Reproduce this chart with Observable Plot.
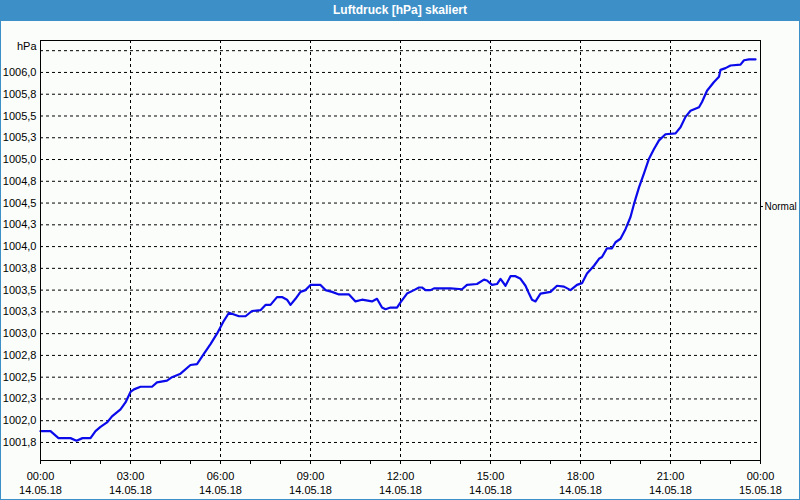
<!DOCTYPE html>
<html>
<head>
<meta charset="utf-8">
<script src="https://cdn.jsdelivr.net/npm/d3@7"></script>
<script src="https://cdn.jsdelivr.net/npm/@observablehq/plot@0.6"></script>
<style>
html, body { margin: 0; padding: 0; background: #fbfdfb; }
#wrap { position: relative; width: 800px; height: 500px; overflow: hidden; background: #fbfdfb; }
#title { height: 21px; background: #3d8fc7; color: #fff; font-family: "Liberation Sans", Arial, sans-serif; font-weight: bold; font-size: 12px; line-height: 20px; text-align: center; }
#border { position: absolute; left: 0; top: 0; width: 798px; height: 499px; border: 1px solid #3d8fc7; border-top: none; pointer-events: none; }
svg { display: block; }
</style>
</head>
<body>
<div id="wrap">
  <div id="title"></div>
  <div id="chart"></div>
  <div id="border"></div>
</div>
<script>
const titleText = "Luftdruck [hPa] skaliert";
const yUnit = "hPa";
const normalLabel = "Normal";
const normalValue = 1004.46;

const times = ["00:00","00:20","00:36","01:00","01:12","01:24","01:40","01:50","02:00","02:13",
  "02:23","02:40","02:50","03:00","03:07","03:20","03:43","03:53","04:13","04:23",
  "04:40","05:00","05:13","05:27","05:40","05:53","06:07","06:17","06:27","06:37",
  "06:50","07:03","07:20","07:30","07:40","07:53","08:03","08:13","08:20","08:30",
  "08:40","08:50","09:00","09:20","09:30","09:43","09:57","10:17","10:30","10:43",
  "11:03","11:13","11:23","11:30","11:40","11:53","12:00","12:13","12:27","12:37",
  "12:43","12:50","13:00","13:07","13:40","14:03","14:13","14:33","14:47","14:53",
  "15:03","15:13","15:20","15:30","15:40","15:50","16:00","16:10","16:17","16:23",
  "16:30","16:40","17:00","17:13","17:27","17:40","17:53","18:03","18:13","18:27",
  "18:37","18:43","18:53","19:03","19:10","19:20","19:30","19:40","19:47","19:57",
  "20:07","20:17","20:27","20:37","20:50","21:10","21:20","21:30","21:40","21:57",
  "22:03","22:13","22:27","22:37","22:40","22:50","23:00","23:20","23:27","23:37","23:50"];

const pressure = [1001.88,1001.88,1001.80,1001.80,1001.77,1001.80,1001.80,1001.88,1001.93,1001.98,
  1002.05,1002.13,1002.21,1002.33,1002.36,1002.39,1002.39,1002.44,1002.46,1002.50,
  1002.54,1002.64,1002.65,1002.77,1002.88,1003.00,1003.15,1003.24,1003.22,1003.20,
  1003.20,1003.26,1003.27,1003.33,1003.33,1003.42,1003.42,1003.39,1003.33,1003.40,
  1003.48,1003.50,1003.56,1003.56,1003.50,1003.48,1003.45,1003.45,1003.37,1003.39,
  1003.37,1003.40,1003.30,1003.28,1003.30,1003.30,1003.36,1003.46,1003.50,1003.53,
  1003.53,1003.50,1003.50,1003.52,1003.52,1003.51,1003.56,1003.57,1003.62,1003.61,
  1003.56,1003.57,1003.63,1003.55,1003.66,1003.66,1003.63,1003.55,1003.46,1003.39,
  1003.37,1003.46,1003.48,1003.55,1003.54,1003.50,1003.56,1003.58,1003.69,1003.78,
  1003.86,1003.88,1003.98,1003.98,1004.05,1004.09,1004.20,1004.34,1004.49,1004.68,
  1004.84,1005.01,1005.12,1005.22,1005.29,1005.30,1005.37,1005.49,1005.56,1005.60,
  1005.66,1005.79,1005.89,1005.95,1006.03,1006.05,1006.08,1006.09,1006.14,1006.15,1006.15];

const yTicks = [1001.75,1002.0,1002.25,1002.5,1002.75,1003.0,1003.25,1003.5,1003.75,
  1004.0,1004.25,1004.5,1004.75,1005.0,1005.25,1005.5,1005.75,1006.0];
const yTickLabels = ["1001,8","1002,0","1002,3","1002,5","1002,8","1003,0","1003,3","1003,5","1003,8",
  "1004,0","1004,3","1004,5","1004,8","1005,0","1005,3","1005,5","1005,8","1006,0"];
const yGrid = [...yTicks, 1006.25];

const xTickHours = [0,3,6,9,12,15,18,21,24];
const xTickTimes = ["00:00","03:00","06:00","09:00","12:00","15:00","18:00","21:00","00:00"];
const xTickDates = ["14.05.18","14.05.18","14.05.18","14.05.18","14.05.18","14.05.18","14.05.18","14.05.18","15.05.18"];
const xGridHours = [3,6,9,12,15,18,21];
const xMinorHours = d3.range(0, 25);

document.getElementById("title").textContent = titleText;

const data = times.map((t, i) => ({
  h: +t.slice(0, 2) + +t.slice(3) / 60,
  v: pressure[i]
}));

const chart = Plot.plot({
  width: 800,
  height: 479,
  marginLeft: 40,
  marginRight: 40,
  marginTop: 19,
  marginBottom: 40,
  style: {fontFamily: "'Liberation Sans', Arial, sans-serif", fontSize: "11px", background: "transparent", color: "#000", overflow: "visible"},
  x: {domain: [0, 24]},
  y: {domain: [1001.543, 1006.367]},
  marks: [
    Plot.ruleY(yGrid, {stroke: "#000", strokeWidth: 1, strokeDasharray: "3,3", strokeOpacity: 1}),
    Plot.ruleX(xGridHours, {stroke: "#000", strokeWidth: 1, strokeDasharray: "3,3", strokeOpacity: 1}),
    Plot.line(data, {x: "h", y: "v", stroke: "#0a0aeb", strokeWidth: 2.2}),
    Plot.frame({stroke: "#000", strokeWidth: 1}),
    Plot.axisY(yTicks, {tickSize: 0, tickPadding: 4, label: null, tickFormat: d => yTickLabels[yTicks.indexOf(d)], fill: "#000"}),
    Plot.axisX(xMinorHours, {tickSize: 4, label: null, tickFormat: () => "", stroke: "#000"}),
    Plot.axisX(xTickHours, {tickSize: 0, tickPadding: 9, label: null, lineHeight: 1.3, fill: "#000",
      tickFormat: d => xTickTimes[xTickHours.indexOf(d)] + "\n" + xTickDates[xTickHours.indexOf(d)]}),
    Plot.text([yUnit], {x: () => 0, y: () => 1006.25, text: d => d, dx: -4, dy: -4, textAnchor: "end", fill: "#000"}),
    Plot.ruleY([normalValue], {x1: () => 24, x2: () => 24.1, stroke: "#000"}),
    Plot.text([normalLabel], {x: () => 24, y: () => normalValue, text: d => d, dx: 4, textAnchor: "start", fill: "#000", fontSize: 10})
  ]
});
document.getElementById("chart").appendChild(chart);
</script>
</body>
</html>
